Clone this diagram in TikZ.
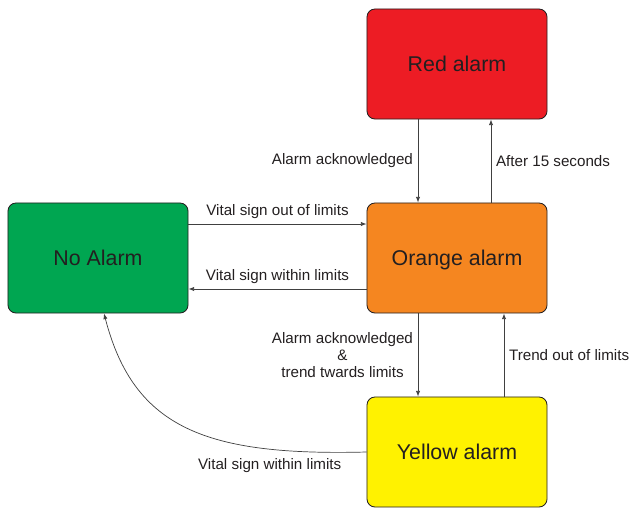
\documentclass[tikz,border=0pt]{standalone}
\usepackage{fontspec}
\setmainfont{Liberation Sans}
\usetikzlibrary{arrows.meta}

\definecolor{alarmred}{RGB}{237,28,36}
\definecolor{alarmorange}{RGB}{245,134,32}
\definecolor{alarmgreen}{RGB}{0,166,81}
\definecolor{alarmyellow}{RGB}{255,242,0}
\definecolor{inkgray}{RGB}{35,31,32}

\begin{document}
\begin{tikzpicture}[x=0.025cm, y=-0.025cm,
        state/.style={draw=inkgray, line width=0.6pt, rounded corners=0.2cm,
            minimum width=4.5cm, minimum height=2.75cm, text=inkgray,
            text depth=0pt, font=\fontsize{15.2}{18}\selectfont},
        trans/.style={draw=black!75, line width=0.5pt,
            -{Latex[length=4pt,width=3pt]}},
        lbl/.style={text=inkgray, font=\fontsize{10.8}{12.3}\selectfont}]
        \useasboundingbox (0,0) rectangle (631,508);

        % stavy alarmu
        \node[state, fill=alarmred] (red) at (457,64) {Red alarm};
        \node[state, fill=alarmorange] (orange) at (457,258) {Orange alarm};
        \node[state, fill=alarmgreen] (noalarm) at (98,258) {No Alarm};
        \node[state, fill=alarmyellow] (yellow) at (457,452) {Yellow alarm};

        % red <-> orange
        \draw[trans] (red.south -| 418,0) -- node[lbl, midway, left] {Alarm acknowledged}
        (orange.north -| 418,0);
        \draw[trans] (orange.north -| 491,0) -- node[lbl, midway, right] {After 15 seconds}
        (red.south -| 491,0);

        % no alarm <-> orange
        \draw[trans] (noalarm.east |- 0,224) -- node[lbl, midway, above] {Vital sign out of limits}
        (orange.west |- 0,224);
        \draw[trans] (orange.west |- 0,289) -- node[lbl, midway, above] {Vital sign within limits}
        (noalarm.east |- 0,289);

        % orange <-> yellow
        \draw[trans] (orange.south -| 418,0) -- node[lbl, midway, left, align=center]
        {Alarm acknowledged\\\&\\trend twards limits}
        (yellow.north -| 418,0);
        \draw[trans] (yellow.north -| 504,0) -- node[lbl, midway, right] {Trend out of limits}
        (orange.south -| 504,0);

        % yellow -> no alarm
        \draw[trans] (yellow.west |- 0,452) .. controls (207,456) and (134,429) ..
        node[lbl, pos=0.23, below, yshift=-3pt] {Vital sign within limits}
        (noalarm.south -| 104,0);

    \end{tikzpicture}
\end{document}
